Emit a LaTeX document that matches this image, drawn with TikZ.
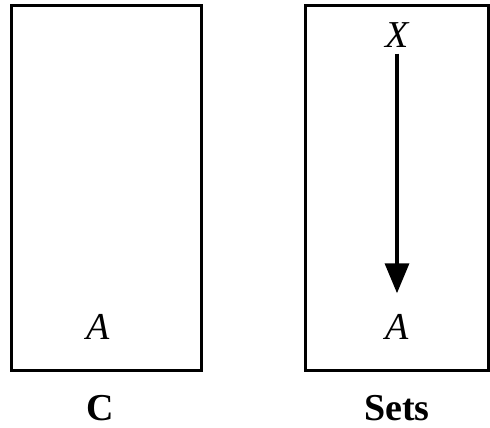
\documentclass[tikz,border=0pt]{standalone}
\usepackage{fontspec}
\setmainfont{Liberation Serif}
\usetikzlibrary{arrows.meta}
\begin{document}
\begin{tikzpicture}[x=1pt,y=-1pt,
  panel/.style={draw, line width=3pt, inner sep=0pt, anchor=center},
  obj/.style={font=\fontsize{38}{40}\selectfont\itshape, inner sep=0pt},
  catlabel/.style={font=\fontsize{38}{40}\selectfont\bfseries, inner sep=0pt},
  arr/.style={line width=3.5pt, -{Triangle[length=30pt,width=24pt]}}]
\useasboundingbox (0,0) rectangle (490,428);
\node[panel, minimum width=190pt, minimum height=365pt] (P1) at (106,188) {};
\node[panel, minimum width=183pt, minimum height=365pt] (P2) at (397,188) {};
\node[obj] (A1) at (98,327) {A};
\node[obj] (X) at (397,35) {X};
\node[obj] (A2) at (397,327) {A};
\node[catlabel] (C) at (100,408) {C};
\node[catlabel] (S) at (397,408) {Sets};
\draw[arr, shorten <=6pt, shorten >=21pt] (X.south) -- (A2.north);
\end{tikzpicture}
\end{document}
